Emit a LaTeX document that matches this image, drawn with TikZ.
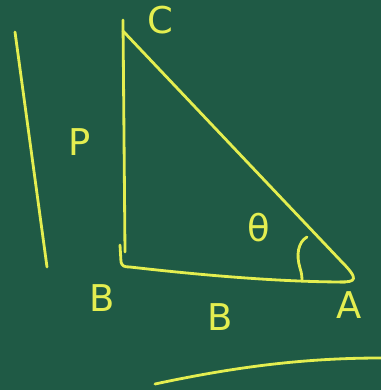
\documentclass[tikz,border=0pt]{standalone}
\usepackage{fontspec}
\setmainfont{DejaVu Sans}
\definecolor{board}{HTML}{1F5A45}
\definecolor{chalk}{HTML}{E4EE50}
\begin{document}
\begin{tikzpicture}[
    x=0.02cm, y=-0.02cm,
    % Define styles
    chalkline/.style={
        draw=chalk,
        line width=1.6pt,
        line cap=round,
        line join=round
    },
    letter/.style={
        text=chalk,
        font=\fontsize{21}{24}\selectfont,
        inner sep=0pt
    }
]

% Board
\fill[board] (0,0) rectangle (381,390);
\useasboundingbox (0,0) rectangle (381,390);

% Triangle corners
\coordinate (C) at (123,20);
\coordinate (B) at (123,265);
\coordinate (A) at (354,280);

% Left stroke
\draw[chalkline] (15,32) -- (47,267);

% Sides of the triangle
\draw[chalkline] (C) -- (125,252);
\draw[chalkline] (123,31) -- (340,260) .. controls (360,280) and (356,282) .. (340,282);
\draw[chalkline] (120,245) -- (121,262) .. controls (122,266) and (124,267) .. (130,267)
    .. controls (200,275) and (280,282) .. (345,282);

% Angle mark at A
\draw[chalkline] (307,237) .. controls (298,242) and (296,255) .. (300,268)
    .. controls (302,274) and (302,278) .. (302,281);

% Labels
\node[letter] (labelC) at (160,20) {C};
\node[letter] (labelP) at (80,142) {P};
\node[letter] (labelB) at (102,298) {B};
\node[letter] (labelBase) at (220,317) {B};
\node[letter] (labelA) at (349,305) {A};
\node[letter] (labelTheta) at (259,228) {θ};

% Bottom stroke
\draw[chalkline] (155,384) .. controls (230,368) and (300,358) .. (381,358);
\end{tikzpicture}
\end{document}
